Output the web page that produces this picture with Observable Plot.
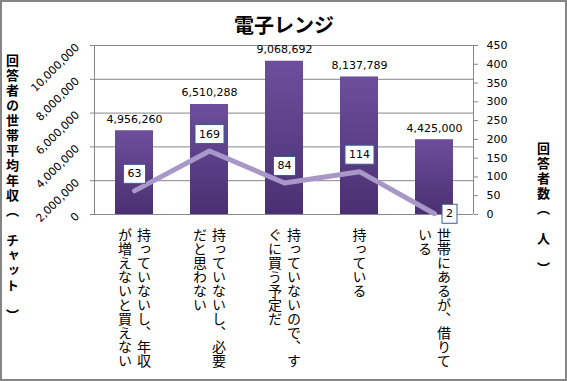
<!DOCTYPE html>
<html><head><meta charset="utf-8">
<script src="https://cdn.jsdelivr.net/npm/d3@7"></script>
<script src="https://cdn.jsdelivr.net/npm/@observablehq/plot@0.6"></script>
<style>
body{margin:0;background:#fff;}
#wrap{position:relative;width:567px;height:381px;}
#border{position:absolute;left:0;top:0;width:567px;height:381px;box-sizing:border-box;border:2px solid #858585;pointer-events:none;}
svg{display:block;}
</style>
</head><body>
<div id="wrap"><div id="border"></div></div>
<script>
const title = "電子レンジ";
const categories = [
  "持っていないし、年収が増えないと買えない",
  "持っていないし、必要だと思わない",
  "持っていないので、すぐに買う予定だ",
  "持っている",
  "世帯にあるが、借りている"
];
const incomes = [4956260, 6510288, 9068692, 8137789, 4425000];
const respondents = [63, 169, 84, 114, 2];
const leftTicks = [0, 2000000, 4000000, 6000000, 8000000, 10000000];
const rightTicks = [0, 50, 100, 150, 200, 250, 300, 350, 400, 450];
const leftTitle = "回答者の世帯平均年収（　チャット　）";
const rightTitle = "回答者数（　人　）";

const leftMax = 10000000, rightMax = 450;
const ratio = leftMax / rightMax;
const rows = categories.map((c, i) => ({cat: c, income: incomes[i], resp: respondents[i], last: i === categories.length - 1}));

// split category labels into vertical columns of 10 characters
const cols = categories.flatMap(c => {
  const chunks = [];
  for (let i = 0; i < c.length; i += 10) chunks.push(c.slice(i, i + 10));
  return chunks.map((s, i) => ({cat: c, s, off: (chunks.length - 1) / 2 - i}));
});
const colGap = 19;
const numFont = "DejaVu Sans, sans-serif";
const jpFont = "'Noto Sans CJK JP', sans-serif";

const vtext = (data, off) => Plot.text(data.filter(d => d.off === off), {
  x: "cat", text: "s", frameAnchor: "bottom", dy: 13, dx: off * colGap,
  textAnchor: "start", lineAnchor: "bottom", fontSize: 14, fontFamily: jpFont, fill: "#000"
});

const plot = Plot.plot({
  width: 567, height: 381,
  marginLeft: 94, marginRight: 94, marginTop: 45, marginBottom: 167,
  style: {fontFamily: numFont, fontSize: "11px", background: "transparent", overflow: "visible"},
  x: {domain: categories, paddingInner: 0.5, paddingOuter: 0.25, axis: null},
  y: {domain: [0, leftMax], axis: null},
  marks: [
    Plot.gridY(leftTicks, {stroke: "#878787", strokeOpacity: 1}),
    Plot.barY(rows, {x: "cat", y: "income", fill: "url(#barGrad)"}),
    Plot.text(rows, {x: "cat", y: "income", text: d => d3.format(",")(d.income), lineAnchor: "bottom", dy: -8, fontSize: 11, fill: "#000"}),
    Plot.line(rows, {x: "cat", y: d => d.resp * ratio, stroke: "#A898C8", strokeWidth: 5, strokeLinecap: "round"}),
    Plot.text(rows.filter(d => !d.last), {x: "cat", y: d => d.resp * ratio, text: "resp", dy: -17, fontSize: 11, fill: "#000"}),
    Plot.text(rows.filter(d => d.last), {x: "cat", y: d => d.resp * ratio, text: "resp", dx: 15, fontSize: 11, fill: "#000"}),
    Plot.axisY(leftTicks, {anchor: "left", label: null, tickFormat: d3.format(","), tickRotate: -45, tickSize: 4, tickPadding: 13, stroke: "#878787", fill: "#000", fontSize: 11}),
    Plot.axisY(rightTicks.map(v => v * ratio), {anchor: "right", label: null, tickFormat: d => String(Math.round(d / ratio)), tickSize: 4, tickPadding: 9, stroke: "#878787", fill: "#000", fontSize: 11}),
    vtext(cols, 0), vtext(cols, 0.5), vtext(cols, -0.5),
    Plot.text([title], {frameAnchor: "top", dy: -27, fontSize: 20, fontWeight: "bold", fontFamily: jpFont, fill: "#000"}),
    Plot.text([leftTitle], {frameAnchor: "top-left", dx: -82, dy: 8, textAnchor: "start", lineAnchor: "bottom", fontSize: 13, fontWeight: "bold", fontFamily: jpFont, fill: "#000"}),
    Plot.text([rightTitle], {frameAnchor: "top-right", dx: 70, dy: 96, textAnchor: "start", lineAnchor: "bottom", fontSize: 13, fontWeight: "bold", fontFamily: jpFont, fill: "#000"})
  ]
});

document.getElementById("wrap").prepend(plot);
const svg = d3.select(plot);

// gradient for bars
const defs = svg.insert("defs", ":first-child");
const g = defs.append("linearGradient").attr("id", "barGrad").attr("x1", 0).attr("y1", 0).attr("x2", 0).attr("y2", 1);
g.append("stop").attr("offset", "0%").attr("stop-color", "#6D4E9C");
g.append("stop").attr("offset", "100%").attr("stop-color", "#4A3072");

// vertical writing
const colSet = new Set(cols.map(d => d.s));
const titleSet = new Set([leftTitle, rightTitle]);
const boxSet = new Set(respondents.map(String));
svg.selectAll("text").filter(function() { return colSet.has(this.textContent); })
  .style("writing-mode", "vertical-rl");
svg.selectAll("text").filter(function() { return titleSet.has(this.textContent); })
  .style("writing-mode", "vertical-rl").style("letter-spacing", "2px");

// axis lines from scales
const xs = plot.scale("x"), ys = plot.scale("y");
const [x0, x1] = xs.range, [yb, yt] = ys.range;
const axes = svg.append("g").attr("stroke", "#878787");
axes.append("line").attr("x1", x0 + 0.5).attr("x2", x0 + 0.5).attr("y1", yb).attr("y2", yt);
axes.append("line").attr("x1", x1 + 0.5).attr("x2", x1 + 0.5).attr("y1", yb).attr("y2", yt);

// boxes around line value labels (only the line-label texts, not axis ticks)
svg.selectAll("text").filter(function() {
  return boxSet.has(this.textContent) && !this.closest('g[aria-label^="y-axis"]');
}).each(function() {
  const b = this.getBBox();
  const t = this.getAttribute("transform");
  const r = d3.select(this.parentNode).insert("rect", () => this)
    .attr("x", b.x - 4).attr("y", b.y - 3).attr("width", b.width + 8).attr("height", b.height + 6)
    .attr("fill", "#fff").attr("stroke", "#3B5E8C").attr("stroke-width", 1);
  if (t) r.attr("transform", t);
});
</script>
</body></html>
